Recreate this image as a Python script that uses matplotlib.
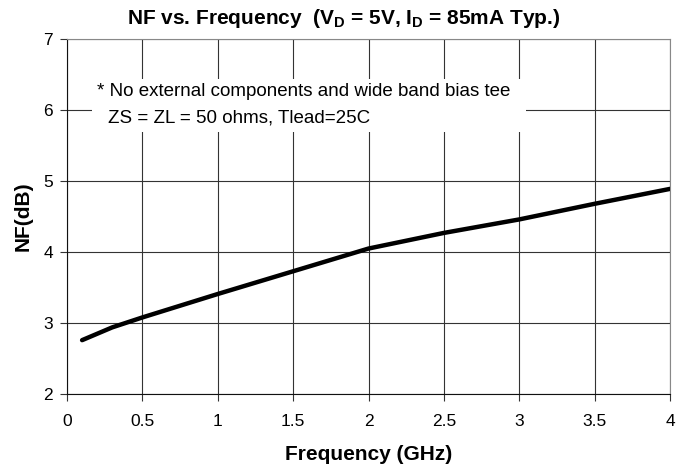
import matplotlib
matplotlib.use('Agg')
import matplotlib.pyplot as plt
from matplotlib.patches import Rectangle

# DATA ##########################################

freq_ghz = [0.1, 0.3, 0.5, 1.0, 1.5, 2.0, 2.5, 3.0, 3.5, 4.0]
nf_db = [2.76, 2.94, 3.08, 3.41, 3.73, 4.05, 4.27, 4.46, 4.68, 4.89]

x_ticks = [0, 0.5, 1, 1.5, 2, 2.5, 3, 3.5, 4]
x_tick_labels = ['0', '0.5', '1', '1.5', '2', '2.5', '3', '3.5', '4']
y_ticks = [2, 3, 4, 5, 6, 7]

note_lines = ['* No external components and wide band bias tee',
              'ZS = ZL = 50 ohms, Tlead=25C']

# SETUP #########################################

plt.rcParams.update({
    'font.family': ['Liberation Sans', 'DejaVu Sans'],
    'font.size': 12,
    'mathtext.fontset': 'custom',
    'mathtext.rm': 'Liberation Sans',
    'mathtext.bf': 'Liberation Sans:bold',
})

fig = plt.figure(figsize=(6.77, 4.76), dpi=100)
ax = fig.add_axes([0.099, 0.172, 0.8907, 0.746])

# PLOTTING ######################################

ax.plot(freq_ghz, nf_db, color='black', linewidth=3.2, solid_capstyle='round', zorder=3)

ax.set_xlim(0, 4)
ax.set_ylim(2, 7)
ax.set_xticks(x_ticks)
ax.set_xticklabels(x_tick_labels, fontsize=12.5)
ax.set_yticks(y_ticks)
ax.set_yticklabels([str(v) for v in y_ticks], fontsize=12.5)
ax.tick_params(direction='out', length=5, width=0.8, color='#333333', pad=5)
ax.tick_params(axis='x', pad=9)

ax.set_axisbelow(True)
ax.grid(True, color='#333333', linewidth=0.8)
for side in ['top', 'right']:
    ax.spines[side].set_color('#888888')
for side in ['left', 'bottom']:
    ax.spines[side].set_color('#111111')

# note box hides the grid behind it
ax.add_patch(Rectangle((0.041, 0.738), 0.72, 0.149, transform=ax.transAxes,
                       facecolor='white', edgecolor='none', zorder=1.5))
ax.text(0.05, 0.851, note_lines[0], transform=ax.transAxes, ha='left', va='center',
        fontsize=13.5, zorder=2)
ax.text(0.068, 0.777, note_lines[1], transform=ax.transAxes, ha='left', va='center',
        fontsize=13.5, zorder=2)

# LABELS ########################################

fig.text(0.507, 0.962, r'NF vs. Frequency  (V$_\mathbf{D}$ = 5V, I$_\mathbf{D}$ = 85mA Typ.)',
         ha='center', va='center', fontsize=15, fontweight='bold')
ax.set_xlabel('Frequency (GHz)', fontsize=15, fontweight='bold', labelpad=12)
ax.set_ylabel('NF(dB)', fontsize=15, fontweight='bold', labelpad=8)

# EXPORT ########################################

fig.savefig('out.png', dpi=100)
